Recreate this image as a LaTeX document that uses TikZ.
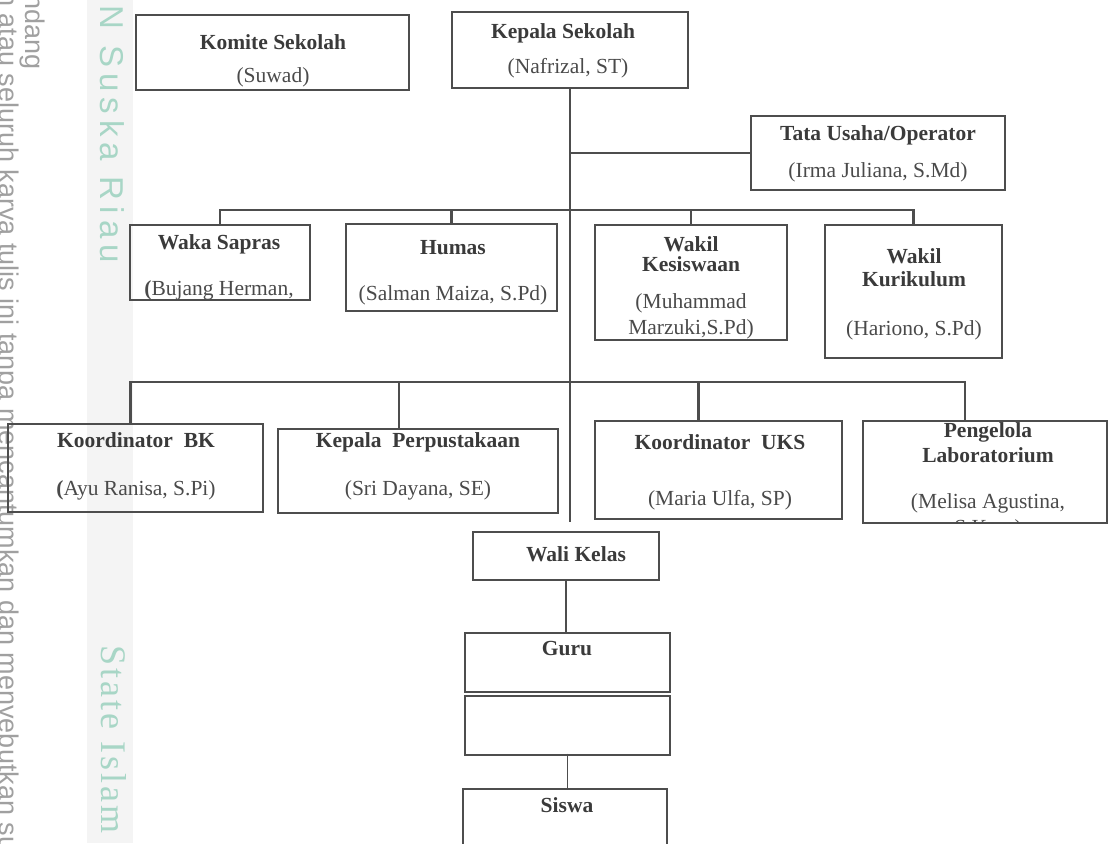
\documentclass[tikz,border=0pt]{standalone}
\usepackage{fontspec}
\setmainfont{Liberation Serif}
\newfontfamily\wmsans{Liberation Sans}
\newfontfamily\wmserif{Liberation Serif}
\definecolor{linec}{HTML}{4D4D4D}
\definecolor{headc}{HTML}{3A3A3A}
\definecolor{txtc}{HTML}{4A4A4A}
\definecolor{wmgrey}{HTML}{A0A0A0}
\definecolor{wmteal}{HTML}{A8D6C6}
\definecolor{wmstrip}{HTML}{F4F4F4}
\newcommand\lsp{\kern6pt}
\newcommand\wsp{\kern16pt}
\newcommand\ssp{\kern3pt}
\begin{document}
\begin{tikzpicture}[x=1pt,y=-1pt,
  orgbox/.style={draw=linec,line width=2.3pt,inner sep=0pt,outer sep=0pt,anchor=north west},
  conn/.style={draw=linec,line width=2.3pt},
  thinconn/.style={draw=linec,line width=1pt},
  txt/.style={anchor=base,inner sep=0pt,text=txtc,font=\fontsize{21.5}{25}\selectfont},
  hd/.style={anchor=base,inner sep=0pt,text=headc,font=\fontsize{21.5}{25}\selectfont\bfseries},
  wm/.style={anchor=base west,inner sep=0pt,rotate=-90,text=wmgrey,font=\wmsans\fontsize{27}{30}\selectfont},
  wmt/.style={anchor=base west,inner sep=0pt,rotate=-90,text=wmteal},
]
\clip (0,0) rectangle (1110,843);
% watermark margin
\fill[wmstrip] (87,0) rectangle (133,843);
\node[wm] (wmA) at (-1,-9) {n atau seluruh karya tulis ini tanpa mencantumkan dan menyebutkan sumber};
\node[wm,anchor=base east] (wmB) at (25,70) {Hak Cipta Dilindungi Undang-Undang};
\node[wmt,font=\wmsans\fontsize{33}{36}\selectfont] (wmC) at (100,-10) {I\lsp N\wsp S\lsp u\lsp s\lsp k\lsp a\wsp R\lsp i\lsp a\lsp u};
\node[wmt,font=\wmserif\fontsize{36}{40}\selectfont] (wmD) at (101,645) {S\ssp t\ssp a\ssp t\ssp e\kern12pt I\ssp s\ssp l\ssp a\ssp m};

% boxes
\node[orgbox,minimum width=273pt,minimum height=75pt] (komite) at (136,15) {};
\node[orgbox,minimum width=236pt,minimum height=76pt] (kepala) at (452,12) {};
\node[orgbox,minimum width=254pt,minimum height=74pt] (tata) at (751,116) {};
\node[orgbox,minimum width=180pt,minimum height=75pt] (waka) at (130,225) {};
\node[orgbox,minimum width=211pt,minimum height=87pt] (humas) at (346,224) {};
\node[orgbox,minimum width=192pt,minimum height=115pt] (kesis) at (595,225) {};
\node[orgbox,minimum width=177pt,minimum height=133pt] (kuri) at (825,225) {};
\node[orgbox,minimum width=255pt,minimum height=88pt] (bk) at (8,424) {};
\node[orgbox,minimum width=280pt,minimum height=84pt] (perp) at (278,429) {};
\node[orgbox,minimum width=247pt,minimum height=98pt] (uks) at (595,421) {};
\node[orgbox,minimum width=244pt,minimum height=102pt] (lab) at (863,421) {};
\node[orgbox,minimum width=186pt,minimum height=48pt] (wali) at (473,532) {};
\node[orgbox,minimum width=205pt,minimum height=59pt] (guru) at (465,633) {};
\node[orgbox,minimum width=205pt,minimum height=59pt] (empty) at (465,696) {};
\node[orgbox,minimum width=204pt,minimum height=90pt] (siswa) at (463,789) {};

% texts
\node[hd] (komiteT) at (273,50) {Komite Sekolah};
\node[txt] (komiteN) at (273,82) {(Suwad)};
\node[hd] (kepalaT) at (563,39) {Kepala Sekolah};
\node[txt] (kepalaN) at (568,74) {(Nafrizal, ST)};
\node[hd] (tataT) at (878,140) {Tata Usaha/Operator};
\node[txt] (tataN) at (878,177) {(Irma Juliana, S.Md)};
\node[hd] (wakaT) at (219,249) {Waka Sapras};
\node[txt] (wakaN) at (219,295) {{\bfseries(}Bujang Herman,};
\node[hd] (humasT) at (453,254) {Humas};
\node[txt] (humasN) at (453,300) {(Salman Maiza, S.Pd)};
\node[hd] (kesisT1) at (691,251) {Wakil};
\node[hd] (kesisT2) at (691,271) {Kesiswaan};
\node[txt] (kesisN1) at (691,308) {(Muhammad};
\node[txt] (kesisN2) at (691,334) {Marzuki,S.Pd)};
\node[hd] (kuriT1) at (914,263) {Wakil};
\node[hd] (kuriT2) at (914,286) {Kurikulum};
\node[txt] (kuriN) at (914,335) {(Hariono, S.Pd)};
\node[hd] (bkT) at (136,447) {Koordinator~~BK};
\node[txt] (bkN) at (136,495) {{\bfseries(}Ayu Ranisa, S.Pi)};
\node[hd] (perpT) at (418,447) {Kepala~~Perpustakaan};
\node[txt] (perpN) at (418,495) {(Sri Dayana, SE)};
\node[hd] (uksT) at (720,449) {Koordinator~~UKS};
\node[txt] (uksN) at (720,505) {(Maria Ulfa, SP)};
\node[hd] (labT1) at (988,437) {Pengelola};
\node[hd] (labT2) at (988,462) {Laboratorium};
\node[txt] (labN1) at (988,508) {(Melisa Agustina,};
\begin{scope}
\clip (863,421) rectangle (1107,523);
\node[txt] (labN2) at (988,534) {S.Kom)};
\end{scope}
\node[hd] (waliT) at (576,561) {Wali Kelas};
\node[hd] (guruT) at (567,655) {Guru};
\node[hd] (siswaT) at (567,812) {Siswa};

% connectors
\coordinate (tk) at (570,153);
\coordinate (bus1) at (570,210);
\coordinate (bus2) at (570,382);
\coordinate (trunkEnd) at (570,522);
\coordinate (bkTop) at ([xshift=-5pt]bk.north);
\coordinate (perpTop) at ([xshift=-19pt]perp.north);
\coordinate (uksTop) at ([xshift=-20pt]uks.north);
\coordinate (labTop) at ([xshift=-20pt]lab.north);
\coordinate (thinTop) at ([yshift=1.5pt]empty.south);
\draw[conn] (kepala.south) -- (trunkEnd);
\draw[conn] (tk) -- (tata.west);
\draw[conn] (waka.north) |- (bus1) -| (kuri.north);
\draw[conn] (humas.north) -- (humas.north |- bus1);
\draw[conn] (kesis.north) -- (kesis.north |- bus1);
\draw[conn] (bkTop) |- (bus2) -| (labTop);
\draw[conn] (perpTop) -- (perpTop |- bus2);
\draw[conn] (uksTop) -- (uksTop |- bus2);
\draw[conn] (wali.south) -- (wali.south |- guru.north);
\draw[thinconn] (thinTop) -- (thinTop |- siswa.north);
\end{tikzpicture}
\end{document}
